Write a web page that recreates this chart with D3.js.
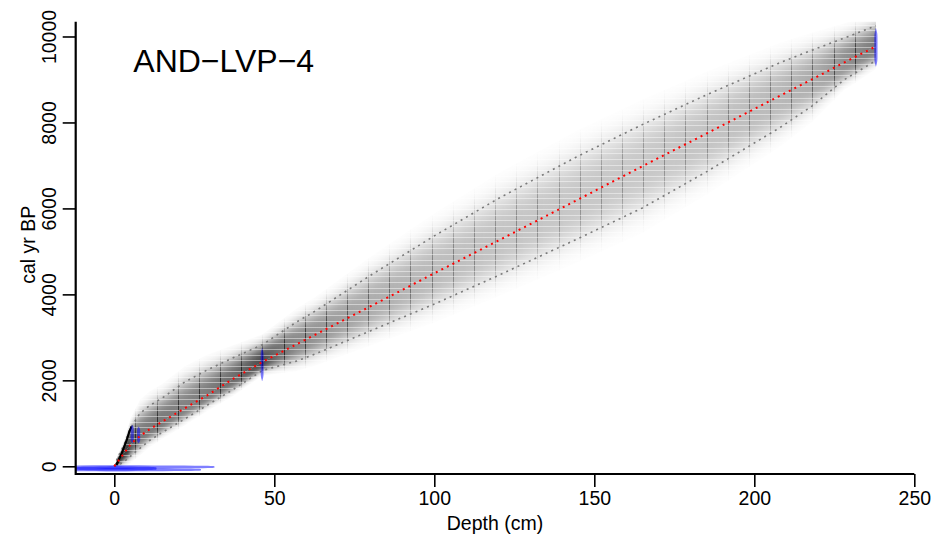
<!DOCTYPE html>
<html>
<head>
<meta charset="utf-8">
<script src="https://cdn.jsdelivr.net/npm/d3@7"></script>
<style>
body { margin: 0; background: #fff; }
svg text { font-family: "Liberation Sans", Arial, sans-serif; fill: #000; }
</style>
</head>
<body>
<div id="chart"></div>
<script>
// Age-depth model, values (depth in cm, ages in cal yr BP).
var modelDepth = [0, 1, 2, 3, 4, 5, 6, 8, 11, 15, 22, 29, 37, 46.3, 57, 63, 80, 100, 120, 145, 165, 185, 208, 218, 228, 238];
var ageMean = [0, 100, 200, 300, 400, 500, 580, 700, 860, 1040, 1350, 1650, 2030, 2430, 2840, 3070, 3720, 4490, 5250, 6210, 6980, 7740, 8620, 9000, 9390, 9770];
var ageMin = [0, 20, 60, 110, 165, 230, 300, 419, 600, 790, 1100, 1420, 1780, 2230, 2450, 2620, 3150, 3775, 4440, 5300, 6010, 6850, 7880, 8380, 8990, 9440];
var ageMax = [0, 200, 340, 490, 680, 880, 1000, 1230, 1410, 1590, 1960, 2240, 2520, 2830, 3360, 3620, 4440, 5360, 6230, 7220, 7950, 8640, 9390, 9680, 9960, 10250];

// dark part of the model near the surface
var surfaceDepth = [0.7, 1.6, 2.3, 3.1, 3.9, 4.7, 5.4];
var surfaceAge = [30, 186, 302, 456, 612, 805, 930];

// dated levels (blue)
var dateDepth = [0.5, 0.5, 0.5, 5.6, 7.6, 46.2, 238];
var dateAge = [-15, -80, -50, 750, 728, 2368, 9745];
var dateErr = [40, 38, 50, 210, 193, 383, 445];
var dateDens = [30.8, 26.6, 12.7, 0.5, 0.5, 0.45, 0.5];

var sections = 36;
var maxDepth = 238;
var xTicks = [0, 50, 100, 150, 200, 250];
var yTicks = [0, 2000, 4000, 6000, 8000, 10000];
var title = "AND\u2212LVP\u22124";

var width = 936, height = 543;
var box = { left: 75.7, right: 914.3, top: 21.7, bottom: 474 };

var svg = d3.select("#chart").append("svg")
    .attr("width", width)
    .attr("height", height);

var x = d3.scaleLinear().domain([-12.06, 250]).range([box.left, box.right]);
var y = d3.scaleLinear().domain([-179, 10344]).range([box.bottom, box.top]);

var fMean = d3.scaleLinear().domain(modelDepth).range(ageMean);
var fMin = d3.scaleLinear().domain(modelDepth).range(ageMin);
var fMax = d3.scaleLinear().domain(modelDepth).range(ageMax);

// flat-topped profile, dotted bounds sit at z = 2
function prof(z) { return Math.exp(-0.1145 * Math.pow(Math.abs(z), 3)); }
var zExt = 3.2;

var defs = svg.append("defs");
defs.append("clipPath").attr("id", "plotclip")
    .append("rect")
    .attr("x", box.left).attr("y", box.top)
    .attr("width", box.right - box.left).attr("height", box.bottom - box.top);

var nStops = d3.range(0, 1.0001, 0.05);
var gUp = defs.append("linearGradient").attr("id", "gUp")
    .attr("x1", 0).attr("y1", 0).attr("x2", 0).attr("y2", 1);
gUp.selectAll("stop").data(nStops).enter().append("stop")
    .attr("offset", t => t)
    .attr("stop-color", "#000")
    .attr("stop-opacity", t => prof(zExt * (1 - t)));
var gDown = defs.append("linearGradient").attr("id", "gDown")
    .attr("x1", 0).attr("y1", 0).attr("x2", 0).attr("y2", 1);
gDown.selectAll("stop").data(nStops).enter().append("stop")
    .attr("offset", t => t)
    .attr("stop-color", "#000")
    .attr("stop-opacity", t => prof(zExt * t));

function colInfo(d) {
    var m = fMean(d), lo = fMin(d), hi = fMax(d);
    var top = m + zExt * (hi - m) / 2, bot = m - zExt * (m - lo) / 2;
    var op = Math.min(0.75, 420 / Math.max(hi - lo, 1));
    return { d: d, m: m, top: top, bot: bot, op: op };
}

// one column per pixel
var px0 = Math.floor(x(0)), px1 = Math.ceil(x(maxDepth));
var cols = d3.range(px0, px1).map(function(p) {
    var c = colInfo(Math.max(0, Math.min(maxDepth, x.invert(p + 0.5))));
    c.px = p;
    return c;
}).filter(c => c.top - c.bot > 1);

var plot = svg.append("g").attr("clip-path", "url(#plotclip)");
var shade = plot.append("g");

function drawCols(g, data, w, opf) {
    g.selectAll(null).data(data).enter().append("rect")
        .attr("x", c => c.px).attr("width", w)
        .attr("y", c => y(c.top))
        .attr("height", c => Math.max(0, y(c.m) - y(c.top)))
        .attr("fill", "url(#gUp)")
        .attr("fill-opacity", opf);
    g.selectAll(null).data(data).enter().append("rect")
        .attr("x", c => c.px).attr("width", w)
        .attr("y", c => y(c.m))
        .attr("height", c => Math.max(0, y(c.bot) - y(c.m)))
        .attr("fill", "url(#gDown)")
        .attr("fill-opacity", opf);
}
drawCols(shade, cols, 1, c => c.op);

// section boundaries
var secData = d3.range(1, sections).map(function(i) {
    var c = colInfo(i * maxDepth / sections);
    c.px = Math.round(x(c.d));
    return c;
});
drawCols(shade.append("g"), secData, 1, c => Math.min(0.6, c.op * 1.3));

// light horizontal banding of the age bins
var bandDepths = d3.range(0, maxDepth + 0.01, 0.5);
var bandArea = d3.area()
    .x(d => x(d))
    .y0(d => y(colInfo(d).bot))
    .y1(d => y(colInfo(d).top));
defs.append("clipPath").attr("id", "bandclip")
    .append("path").attr("d", bandArea(bandDepths));
plot.append("g").attr("clip-path", "url(#bandclip)")
    .selectAll("line").data(d3.range(0, 10400, 130)).enter().append("line")
    .attr("x1", x(0)).attr("x2", x(maxDepth))
    .attr("y1", d => Math.round(y(d)) + 0.5).attr("y2", d => Math.round(y(d)) + 0.5)
    .attr("stroke", "#fff").attr("stroke-opacity", 0.45).attr("stroke-width", 1);

// 95% bounds
var lineDepths = d3.range(0, maxDepth + 0.01, 0.5);
function drawLine(f, color, w) {
    plot.append("path")
        .attr("d", d3.line().x(d => x(d)).y(d => y(f(d)))(lineDepths))
        .attr("fill", "none")
        .attr("stroke", color)
        .attr("stroke-width", w)
        .attr("stroke-dasharray", "2,4.2");
}
drawLine(fMin, "#7a7a7a", 1.6);
drawLine(fMax, "#7a7a7a", 1.6);

plot.append("path")
    .attr("d", d3.line().x((d, i) => x(d)).y((d, i) => y(surfaceAge[i]))(surfaceDepth))
    .attr("fill", "none").attr("stroke", "#000").attr("stroke-width", 2.2);

// dates, nearly flat distributions
var zs = d3.range(-1, 1.0001, 0.05);
function dprof(z) { return Math.exp(-2.2 * Math.pow(Math.abs(z), 8)); }
dateDepth.forEach(function(dd, i) {
    var area = d3.area()
        .y(z => y(dateAge[i] + z * dateErr[i]))
        .x0(z => x(dd - dateDens[i] * dprof(z)))
        .x1(z => x(dd + dateDens[i] * dprof(z)));
    plot.append("path").attr("d", area(zs))
        .attr("fill", "rgba(0,0,255,0.5)");
});

// mean
drawLine(fMean, "#ff0000", 2);

// axes
var fs = "19.5px";
var xAxis = svg.append("g")
    .attr("transform", "translate(0," + box.bottom + ")")
    .call(d3.axisBottom(x).tickValues(xTicks).tickFormat(d3.format("d"))
        .tickSize(13).tickPadding(4).tickSizeOuter(0));
xAxis.select(".domain").remove();
xAxis.selectAll("line").attr("stroke-width", 1.6);
xAxis.selectAll("text").attr("font-size", fs).attr("font-family", null);

var yAxis = svg.append("g")
    .attr("transform", "translate(" + box.left + ",0)")
    .call(d3.axisLeft(y).tickValues(yTicks).tickFormat(d3.format("d"))
        .tickSize(13).tickSizeOuter(0));
yAxis.select(".domain").remove();
yAxis.selectAll("line").attr("stroke-width", 1.6);
yAxis.selectAll("text")
    .attr("x", null).attr("dy", null)
    .attr("transform", "translate(-19.5,0) rotate(-90)")
    .attr("text-anchor", "middle")
    .attr("font-size", fs).attr("font-family", null);

svg.append("path")
    .attr("d", "M" + box.left + "," + box.top + "V" + box.bottom + "H" + box.right)
    .attr("fill", "none").attr("stroke", "#000").attr("stroke-width", 2.2);

svg.append("text")
    .attr("x", (box.left + box.right) / 2).attr("y", 530)
    .attr("text-anchor", "middle").attr("font-size", fs)
    .text("Depth (cm)");

svg.append("text")
    .attr("transform", "translate(35," + ((box.top + box.bottom) / 2 - 3) + ") rotate(-90)")
    .attr("text-anchor", "middle").attr("font-size", fs)
    .text("cal yr BP");

svg.append("text")
    .attr("x", 133.3).attr("y", 71.7)
    .attr("font-size", "32px")
    .text(title);
</script>
</body>
</html>
